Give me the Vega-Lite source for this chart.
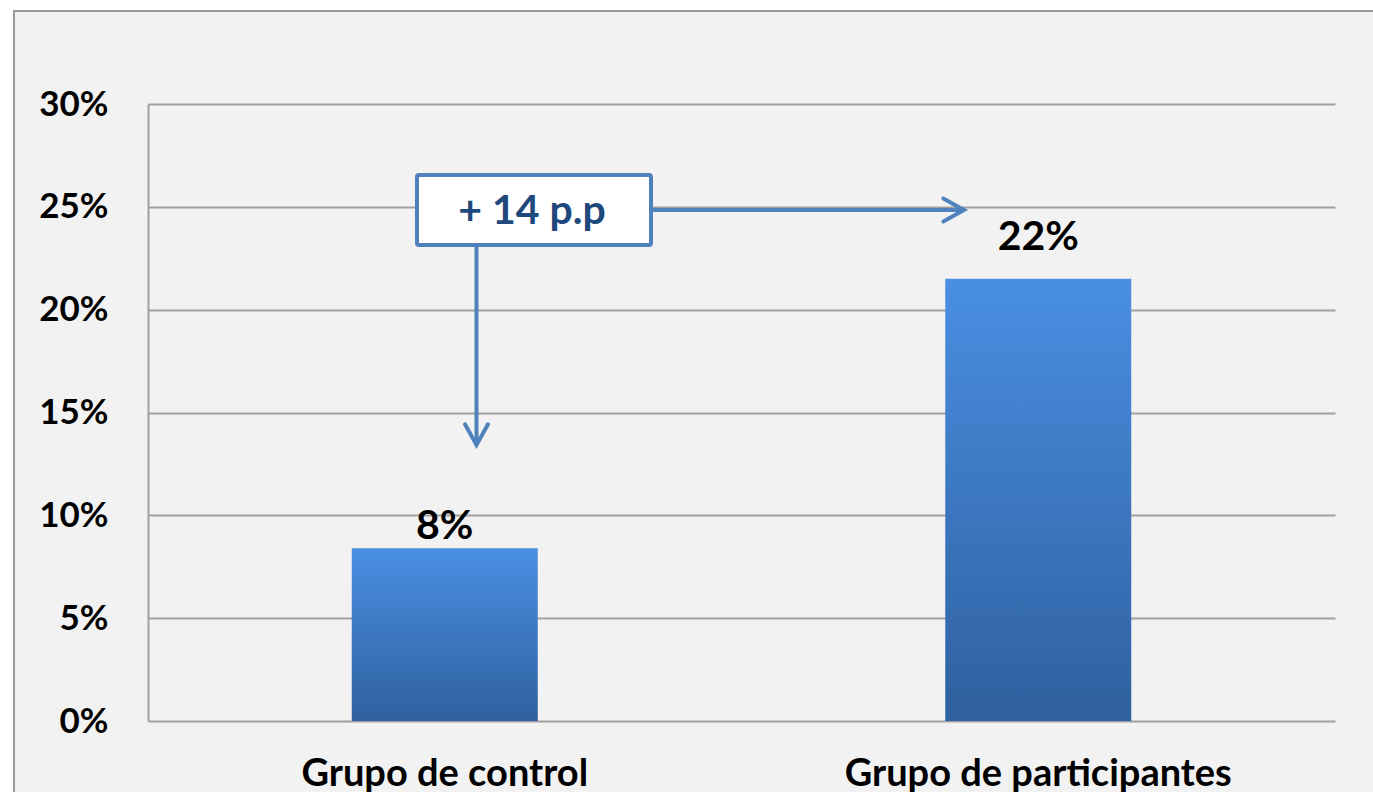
{
  "$schema": "https://vega.github.io/schema/vega-lite/v6.json",
  "width": 1187,
  "height": 617,
  "autosize": {"type": "none"},
  "padding": {"left": 148, "top": 104, "right": 38, "bottom": 71},
  "background": "#f2f2f2",
  "config": {"view": {"stroke": null}, "font": "Lato"},
  "datasets": {
    "bars": [
      {"group": "Grupo de control", "value": 0.084, "label": "8%", "ly": 0.0943, "lx": 0.5},
      {"group": "Grupo de participantes", "value": 0.215, "label": "22%", "ly": 0.2348, "lx": 1.5}
    ],
    "ann": [
      {"kind": "strip", "x": -1, "x2": 3, "y": 0.3452, "y2": 0.6},
      {"kind": "strip", "x": -1, "x2": -0.2258, "y": -0.3, "y2": 0.6},
      {"kind": "frame", "x": -0.2258, "x2": 2.5, "y": 0.3452, "y2": -0.2},
      {"kind": "hline", "x": 0.8475, "x2": 1.3749, "y": 0.24846, "y2": 0.24846},
      {"kind": "vline", "x": 0.5535, "x2": 0.5535, "y": 0.23144, "y2": 0.1342},
      {"kind": "hhead", "x": 1.3749, "y": 0.24846},
      {"kind": "vhead", "x": 0.5535, "y": 0.1342},
      {"kind": "box", "x": 0.4532, "x2": 0.8475, "y": 0.26548, "y2": 0.23144},
      {"kind": "boxtext", "x": 0.647, "y": 0.2475, "text": "+ 14 p.p"}
    ]
  },
  "layer": [
    {
      "data": {"name": "ann"},
      "transform": [{"filter": "datum.kind === 'strip'"}],
      "mark": {"type": "rect", "fill": "#ffffff"},
      "encoding": {
        "x": {"field": "x", "type": "quantitative", "scale": {"domain": [0, 2], "nice": false, "zero": false}, "axis": null},
        "x2": {"field": "x2"},
        "y": {"field": "y", "type": "quantitative", "title": null},
        "y2": {"field": "y2"}
      }
    },
    {
      "data": {"name": "ann"},
      "transform": [{"filter": "datum.kind === 'frame'"}],
      "mark": {"type": "rect", "fillOpacity": 0, "stroke": "#9a9a9a", "strokeWidth": 2},
      "encoding": {
        "x": {"field": "x", "type": "quantitative", "scale": {"domain": [0, 2], "nice": false, "zero": false}, "axis": null},
        "x2": {"field": "x2"},
        "y": {"field": "y", "type": "quantitative", "title": null},
        "y2": {"field": "y2"}
      }
    },
    {
      "data": {"name": "bars"},
      "mark": {
        "type": "bar",
        "size": 186,
        "color": {
          "gradient": "linear", "x1": 0, "y1": 0, "x2": 0, "y2": 1,
          "stops": [
            {"offset": 0, "color": "#4a8fe2"},
            {"offset": 1, "color": "#2f609f"}
          ]
        }
      },
      "encoding": {
        "x": {
          "field": "group", "type": "nominal",
          "sort": ["Grupo de control", "Grupo de participantes"],
          "scale": {"paddingInner": 0, "paddingOuter": 0},
          "axis": {
            "title": null, "labelAngle": 0, "ticks": false, "domain": false,
            "labelFontSize": 38, "labelFontWeight": "bold", "labelColor": "#000000",
            "labelPadding": 34, "labelFont": "Lato", "labelLimit": 0
          }
        },
        "y": {
          "field": "value", "type": "quantitative",
          "scale": {"domain": [0, 0.3], "nice": false},
          "axis": {
            "title": null, "format": ".0%",
            "values": [0, 0.05, 0.1, 0.15, 0.2, 0.25, 0.3],
            "grid": true, "gridColor": "#a0a0a0", "gridWidth": 2,
            "domain": true, "domainColor": "#a0a0a0", "domainWidth": 2,
            "ticks": false, "labelPadding": 40,
            "labelFontSize": 35, "labelFontWeight": "bold", "labelColor": "#000000", "labelFont": "Lato"
          }
        }
      }
    },
    {
      "data": {"name": "bars"},
      "mark": {"type": "text", "fontSize": 41, "fontWeight": "bold", "color": "#000000", "baseline": "middle", "align": "center"},
      "encoding": {
        "x": {"field": "lx", "type": "quantitative", "scale": {"domain": [0, 2], "nice": false, "zero": false}, "axis": null},
        "y": {"field": "ly", "type": "quantitative", "title": null},
        "text": {"field": "label"}
      }
    },
    {
      "data": {"name": "ann"},
      "transform": [{"filter": "datum.kind === 'hline' || datum.kind === 'vline'"}],
      "mark": {"type": "rule", "color": "#4f81bd", "strokeWidth": 4},
      "encoding": {
        "x": {"field": "x", "type": "quantitative", "scale": {"domain": [0, 2], "nice": false, "zero": false}, "axis": null},
        "x2": {"field": "x2"},
        "y": {"field": "y", "type": "quantitative", "title": null},
        "y2": {"field": "y2"}
      }
    },
    {
      "data": {"name": "ann"},
      "transform": [{"filter": "datum.kind === 'hhead'"}],
      "mark": {"type": "point", "shape": "M-1.8,-1L0,0L-1.8,1", "filled": false, "size": 529, "color": "#4f81bd", "strokeWidth": 4, "strokeCap": "round", "opacity": 1},
      "encoding": {
        "x": {"field": "x", "type": "quantitative", "scale": {"domain": [0, 2], "nice": false, "zero": false}, "axis": null},
        "y": {"field": "y", "type": "quantitative", "title": null}
      }
    },
    {
      "data": {"name": "ann"},
      "transform": [{"filter": "datum.kind === 'vhead'"}],
      "mark": {"type": "point", "shape": "M-1,-1.8L0,0L1,-1.8", "filled": false, "size": 529, "color": "#4f81bd", "strokeWidth": 4, "strokeCap": "round", "opacity": 1},
      "encoding": {
        "x": {"field": "x", "type": "quantitative", "scale": {"domain": [0, 2], "nice": false, "zero": false}, "axis": null},
        "y": {"field": "y", "type": "quantitative", "title": null}
      }
    },
    {
      "data": {"name": "ann"},
      "transform": [{"filter": "datum.kind === 'box'"}],
      "mark": {"type": "rect", "fill": "#ffffff", "stroke": "#4f81bd", "strokeWidth": 4, "cornerRadius": 2},
      "encoding": {
        "x": {"field": "x", "type": "quantitative", "scale": {"domain": [0, 2], "nice": false, "zero": false}, "axis": null},
        "x2": {"field": "x2"},
        "y": {"field": "y", "type": "quantitative", "title": null},
        "y2": {"field": "y2"}
      }
    },
    {
      "data": {"name": "ann"},
      "transform": [{"filter": "datum.kind === 'boxtext'"}],
      "mark": {"type": "text", "fontSize": 41, "fontWeight": "bold", "color": "#1f497d", "baseline": "middle", "align": "center"},
      "encoding": {
        "x": {"field": "x", "type": "quantitative", "scale": {"domain": [0, 2], "nice": false, "zero": false}, "axis": null},
        "y": {"field": "y", "type": "quantitative", "title": null},
        "text": {"field": "text"}
      }
    }
  ],
  "resolve": {"scale": {"x": "independent"}, "axis": {"x": "independent"}}
}
